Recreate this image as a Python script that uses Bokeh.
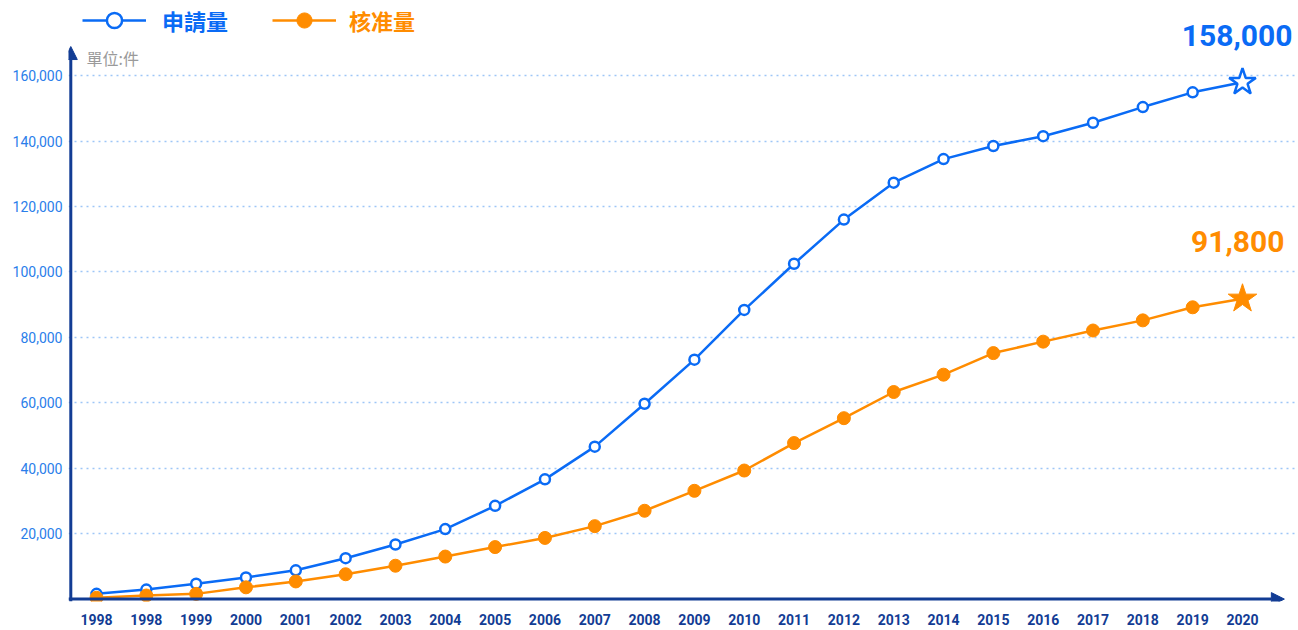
from bokeh.plotting import figure
from bokeh.models import (Range1d, FixedTicker, NumeralTickFormatter, Legend, LegendItem,
                          Label, Arrow, NormalHead)
from bokeh.embed import file_html
from bokeh.resources import INLINE

# ---------------- data ----------------
years = ["1998", "1998", "1999", "2000", "2001", "2002", "2003", "2004", "2005", "2006",
         "2007", "2008", "2009", "2010", "2011", "2012", "2013", "2014", "2015", "2016",
         "2017", "2018", "2019", "2020"]
applications = [1600, 2900, 4700, 6600, 8800, 12500, 16700, 21400, 28500, 36600,
                46600, 59700, 73200, 88400, 102500, 116000, 127300, 134500, 138500, 141500,
                145600, 150400, 154900, 158000]
approvals = [400, 1100, 1600, 3600, 5400, 7600, 10200, 13000, 15900, 18700,
             22300, 27000, 33100, 39300, 47700, 55300, 63300, 68600, 75200, 78700,
             82100, 85200, 89200, 91800]
y_ticks = [20000, 40000, 60000, 80000, 100000, 120000, 140000, 160000]
series_names = ["申請量", "核准量"]
unit_text = "單位:件"

# ---------------- styles ----------------
BLUE = "#0A6BF5"
ORANGE = "#FF8C00"
NAVY = "#123C94"
TICK_BLUE = "#2A7EEA"
GRID = "#9EC6F7"
NUM_FONT = "Roboto"
CJK_FONT = "Noto Sans CJK TC"

xs = list(range(len(years)))
n = len(years)

X0, X1 = -0.562, (n - 1) + 1.124
Y0, Y1 = -734, 182975

p = figure(width=1298, height=630, output_backend="svg", toolbar_location=None,
           x_range=Range1d(X0, X1), y_range=Range1d(Y0, Y1),
           min_border_left=68, min_border_right=0, min_border_top=0, min_border_bottom=29)
p.outline_line_color = None
p.background_fill_color = "white"

# axes
for ax in (p.xaxis[0], p.yaxis[0]):
    ax.axis_line_color = None
    ax.major_tick_line_color = None
    ax.minor_tick_line_color = None
    ax.major_tick_out = 0
    ax.major_tick_in = 0
    ax.minor_tick_out = 0
    ax.minor_tick_in = 0
    ax.major_label_text_font = NUM_FONT

p.xaxis.ticker = FixedTicker(ticks=xs)
p.xaxis.major_label_overrides = {i: y for i, y in enumerate(years)}
p.xaxis.major_label_standoff = 12
p.xaxis.major_label_text_font_style = "bold"
p.xaxis.major_label_text_font_size = "14px"
p.xaxis.major_label_text_color = NAVY

p.yaxis.ticker = FixedTicker(ticks=y_ticks)
p.yaxis.formatter = NumeralTickFormatter(format="0,0")
p.yaxis.major_label_standoff = 6
p.yaxis.major_label_text_font_size = "14px"
p.yaxis.major_label_text_color = TICK_BLUE

p.xgrid.grid_line_color = None
p.ygrid.ticker = FixedTicker(ticks=y_ticks)
p.ygrid.grid_line_color = GRID
p.ygrid.grid_line_dash = "2 4"
p.ygrid.grid_line_width = 1.5

# axis arrows
y_axis_x = X0 + 0.046
p.add_layout(Arrow(end=NormalHead(size=13, fill_color=NAVY, line_color=NAVY),
                   x_start=X0, y_start=0, x_end=(n - 1) + 0.84, y_end=0,
                   line_color=NAVY, line_width=3))
p.add_layout(Arrow(end=NormalHead(size=13, fill_color=NAVY, line_color=NAVY),
                   x_start=y_axis_x, y_start=Y0, x_end=y_axis_x, y_end=168900,
                   line_color=NAVY, line_width=3))

# series
l1 = p.line(xs, applications, line_color=BLUE, line_width=2.5)
c1 = p.scatter(xs[:-1], applications[:-1], marker="circle", size=10, fill_color="white",
               line_color=BLUE, line_width=2.5)
p.scatter(xs[-1:], applications[-1:], marker="star", size=28, fill_color="white",
          line_color=BLUE, line_width=2.5)

l2 = p.line(xs, approvals, line_color=ORANGE, line_width=2.5)
c2 = p.scatter(xs[:-1], approvals[:-1], marker="circle", size=13, fill_color=ORANGE,
               line_color=ORANGE, line_width=1)
p.scatter(xs[-1:], approvals[-1:], marker="star", size=30, fill_color=ORANGE,
          line_color=ORANGE, line_width=1)

# end labels
p.add_layout(Label(x=xs[-1], y=applications[-1], text=f"{applications[-1]:,}",
                   x_offset=50, y_offset=47, text_align="right", text_baseline="middle",
                   text_font=NUM_FONT, text_font_style="bold", text_font_size="30px",
                   text_color=BLUE))
p.add_layout(Label(x=xs[-1], y=approvals[-1], text=f"{approvals[-1]:,}",
                   x_offset=42, y_offset=57, text_align="right", text_baseline="middle",
                   text_font=NUM_FONT, text_font_style="bold", text_font_size="30px",
                   text_color=ORANGE))

# unit label
p.add_layout(Label(x=18, y=544, x_units="screen", y_units="screen", text=unit_text,
                   text_baseline="middle", text_font=CJK_FONT, text_font_size="16px",
                   text_color="#9A9A9A"))

# legends
def make_legend(name, renderers, color, xpos, standoff):
    lg = Legend(items=[LegendItem(label=name, renderers=renderers)],
                location=(xpos, 562), orientation="horizontal",
                glyph_width=64, glyph_height=38, label_standoff=standoff,
                padding=0, margin=0, spacing=0,
                border_line_color=None, background_fill_alpha=0,
                label_text_font=CJK_FONT, label_text_font_style="bold",
                label_text_font_size="22px", label_text_color=color,
                label_text_baseline="middle")
    p.add_layout(lg)

make_legend(series_names[0], [l1, c1], BLUE, 14, 16)
make_legend(series_names[1], [l2, c2], ORANGE, 204, 13)

open("out.html", "w").write(file_html(p, INLINE))
